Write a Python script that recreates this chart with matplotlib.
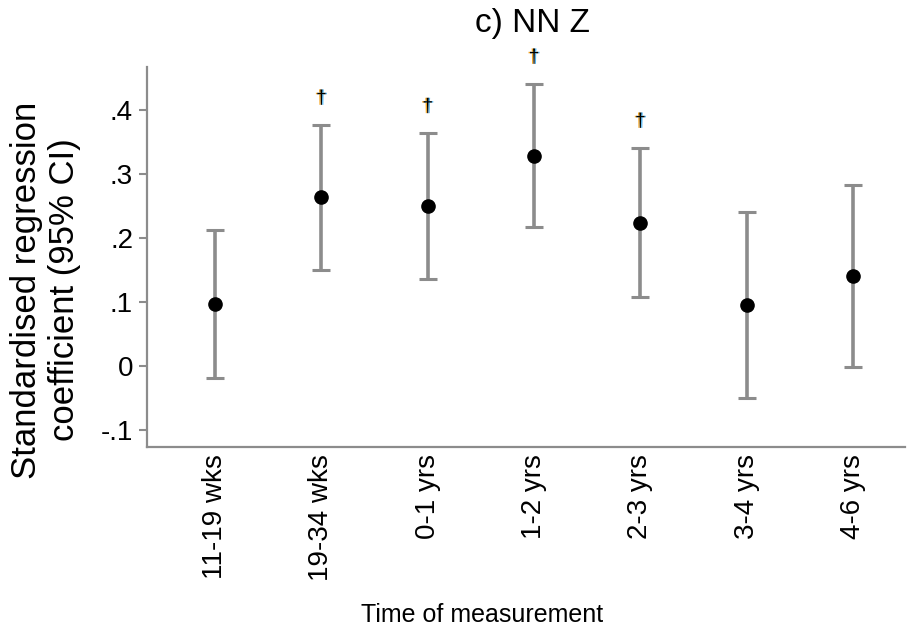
import numpy as np
import matplotlib.pyplot as plt
import matplotlib.patheffects as pe

plt.rcParams['font.family'] = ['Liberation Sans', 'DejaVu Sans']

periods = ["11-19 wks", "19-34 wks", "0-1 yrs", "1-2 yrs", "2-3 yrs", "3-4 yrs", "4-6 yrs"]
coef = [0.097, 0.264, 0.250, 0.328, 0.224, 0.096, 0.141]
ci_low = [-0.019, 0.150, 0.136, 0.217, 0.108, -0.050, -0.002]
ci_high = [0.212, 0.377, 0.364, 0.441, 0.341, 0.240, 0.283]
dagger = [False, True, True, True, True, False, False]

grey = "#8c8c8c"

fig = plt.figure(figsize=(9.09, 6.33), dpi=100)
ax = fig.add_axes([0.1617, 0.2938, 0.834, 0.6003])

x = np.arange(1, len(periods) + 1)
coef = np.array(coef)
lo = coef - np.array(ci_low)
hi = np.array(ci_high) - coef
ax.errorbar(x, coef, yerr=[lo, hi], fmt="none", ecolor=grey, elinewidth=2.6,
            capsize=6.5, capthick=2.2, zorder=2)
ax.plot(x, coef, "o", color="black", markersize=9.5, zorder=3)

# significance markers (dagger), slightly colour-fringed like the original
fringe = [pe.SimplePatchShadow(offset=(-1, 0), shadow_rgbFace="#f5a623", alpha=1),
          pe.SimplePatchShadow(offset=(1, 0), shadow_rgbFace="#4fb3f0", alpha=1),
          pe.Normal()]
for xi, top, flag in zip(x, ci_high, dagger):
    if flag:
        ax.text(xi, top + 0.04, "\u2020", color="black", fontsize=14,
                ha="center", va="center", clip_on=False, path_effects=fringe)

ax.set_xlim(0.36, 7.49)
ax.set_ylim(-0.1266, 0.467)
ax.set_xticks(x)
ax.set_xticklabels(periods, rotation=90, fontsize=20)
ax.set_yticks([-0.1, 0, 0.1, 0.2, 0.3, 0.4])
ax.set_yticklabels(["-.1", "0", ".1", ".2", ".3", ".4"], fontsize=20)
ax.tick_params(axis="x", length=0, pad=5)
ax.tick_params(axis="y", length=6, width=1.5, color=grey, pad=4)

for s in ["top", "right"]:
    ax.spines[s].set_visible(False)
for s in ["left", "bottom"]:
    ax.spines[s].set_color(grey)
    ax.spines[s].set_linewidth(1.6)

ax.set_ylabel("Standardised regression\ncoefficient (95% CI)", fontsize=25,
              linespacing=1.2)
ax.yaxis.set_label_coords(-0.087, 0.413)
ax.set_xlabel("Time of measurement", fontsize=18)
ax.xaxis.set_label_coords(0.442, -0.41)
fig.text(0.586, 0.963, "c) NN Z", fontsize=24, ha="center", va="center")

fig.savefig("out.png", dpi=100)
